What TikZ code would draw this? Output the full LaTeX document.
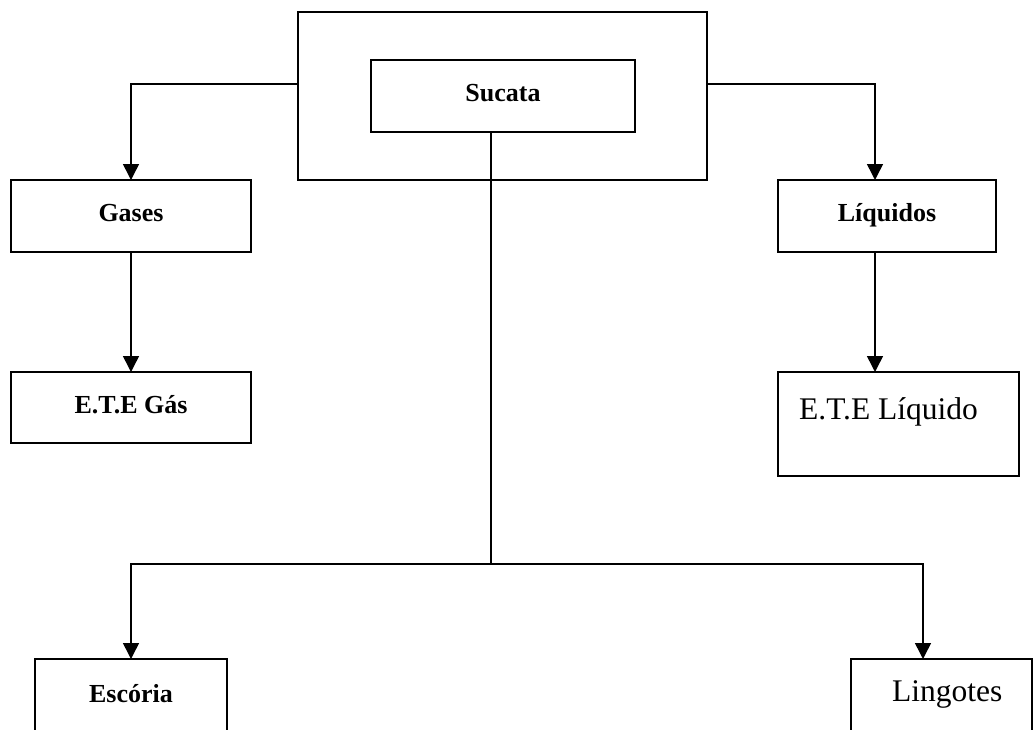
\documentclass[tikz,border=0pt]{standalone}
\usepackage{fontspec}
\setmainfont{Liberation Serif}
\usetikzlibrary{arrows.meta}
\tikzset{
  boxnode/.style={draw, line width=1.5pt, inner sep=0pt, outer sep=0pt},
  boldlabel/.style={anchor=base, inner sep=0pt, font=\fontsize{26}{30}\selectfont\bfseries},
  plainlabel/.style={anchor=base west, inner sep=0pt, font=\fontsize{31.5}{36}\selectfont},
  conn/.style={line width=1.5pt},
  arr/.style={line width=1.5pt, -{Triangle[width=16pt,length=16pt]}}
}
\begin{document}
\begin{tikzpicture}[x=1pt,y=-1pt]
\useasboundingbox (0,0) rectangle (1034,729);
\clip (0,0) rectangle (1034,729);
% boxes
\node[boxnode, minimum width=409pt, minimum height=168pt] (outer) at (502.5,96) {};
\node[boxnode, minimum width=264pt, minimum height=72pt] (sucata) at (503,96) {};
\node[boxnode, minimum width=240pt, minimum height=72pt] (gases) at (131,216) {};
\node[boxnode, minimum width=240pt, minimum height=71pt] (etegas) at (131,407.5) {};
\node[boxnode, minimum width=218pt, minimum height=72pt] (liq) at (887,216) {};
\node[boxnode, minimum width=241pt, minimum height=104pt] (eteliq) at (898.5,424) {};
\node[boxnode, minimum width=192pt, minimum height=101pt] (escoria) at (131,709.5) {};
\node[boxnode, minimum width=181pt, minimum height=101pt] (lingotes) at (941.5,709.5) {};
% labels
\node[boldlabel] (tsucata) at (503,101) {Sucata};
\node[boldlabel] (tgases) at (131,221) {Gases};
\node[boldlabel] (tliq) at (887,221) {Líquidos};
\node[boldlabel] (tetegas) at (131,413) {E.T.E Gás};
\node[plainlabel] (teteliq) at (799,419) {E.T.E Líquido};
\node[boldlabel] (tescoria) at (131,702) {Escória};
\node[plainlabel] (tlingotes) at (892,701) {Lingotes};
% connectors
\draw[arr] ([yshift=12pt]outer.west) -| (gases.north);
\draw[arr] ([yshift=12pt]outer.east) -| ([xshift=-12pt]liq.north);
\draw[arr] (gases.south) -- (etegas.north);
\draw[arr] ([xshift=-12pt]liq.south) -- ([xshift=-12pt]eteliq.north -| liq.south);
\coordinate (split) at (491,564);
\draw[conn] ([xshift=-12pt]sucata.south) -- (split);
\draw[arr] (split) -| (escoria.north);
\draw[arr] (split) -| ([xshift=-18.5pt]lingotes.north);
\end{tikzpicture}
\end{document}
